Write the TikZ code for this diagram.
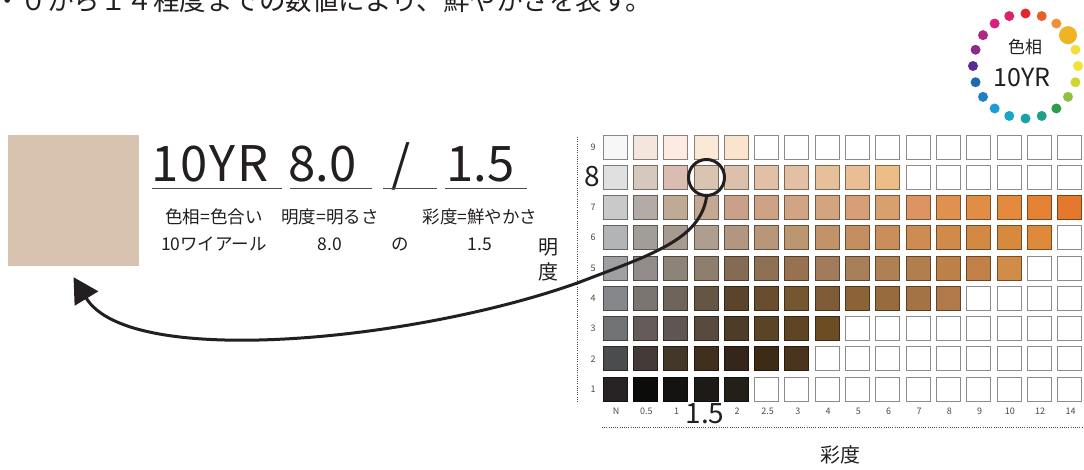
\documentclass[tikz,border=0pt]{standalone}
\usepackage{fontspec}
\setmainfont{Noto Sans CJK JP}
\usetikzlibrary{arrows.meta}
\definecolor{ink}{HTML}{231F20}
\definecolor{swatchc}{HTML}{D8C3B1}
\definecolor{lab}{HTML}{4A4A4A}
\begin{document}
\begin{tikzpicture}[x=1pt,y=-1pt,
  fs/.style={font=\fontsize{#1}{#1}\selectfont},
  cellbox/.style={rectangle, minimum size=24pt, inner sep=0pt, line width=0.8pt},
  dotc/.style={circle, inner sep=0pt, minimum size=#1},
  small/.style={fs=9, text=lab, inner sep=0pt},
  jtext/.style={fs=17.5, text=ink, inner sep=0pt},
  uline/.style={draw=ink!80, line width=0.9pt},
  dotline/.style={draw=lab, line width=0.6pt, dash pattern=on 1pt off 1.2pt}
]
\useasboundingbox (0,0) rectangle (1084,470);
\clip (0,0) rectangle (1084,470);
\fill[white] (0,0) rectangle (1084,470);

% top text (cut by the top edge, as in the reference)
\node[fs=26.5, text=ink, anchor=base west, inner sep=0pt] (toptext) at (-6,11) {・０から１４程度までの数値により、鮮やかさを表す。};

% swatch
\node[rectangle, fill=swatchc, minimum width=131pt, minimum height=131pt, inner sep=0pt] (sw) at (73.5,200.5) {};

% notation
\node[fs=49, text=ink, anchor=base west, inner sep=0pt] (hue) at (151,182) {\addfontfeature{LetterSpace=4}10YR};
\node[fs=49, text=ink, anchor=base west, inner sep=0pt] (val) at (288,182) {8.0};
\node[fs=49, text=ink, anchor=base west, inner sep=0pt] (sl) at (391,182) {/};
\node[fs=49, text=ink, anchor=base west, inner sep=0pt] (chr) at (446,182) {1.5};
\draw[uline] (152,188) -- (282,188);
\draw[uline] (290,188) -- (372,188);
\draw[uline] (383,188) -- (437,188);
\draw[uline] (445,188) -- (527,188);

\node[jtext] (t1) at (214,217) {色相=色合い};
\node[jtext] (t2) at (330,217) {明度=明るさ};
\node[jtext] (t3) at (480,217) {彩度=鮮やかさ};
\node[jtext] (t4) at (214,244) {10ワイアール};
\node[jtext] (t5) at (330,244) {8.0};
\node[jtext] (t6) at (400,244) {の};
\node[jtext] (t7) at (480,244) {1.5};

% axis titles
\node[text=ink, align=center, inner sep=0pt, font=\fontsize{20}{25}\selectfont] (vtitle) at (548,259.5) {明\\度};
\node[fs=20, text=ink, inner sep=0pt] (ctitle) at (840,455) {彩度};

% dotted axes
\draw[dotline] (577,137) -- (577,402);
\draw[dotline] (602,427) -- (1082,427);

% grid
\foreach \r/\lst in {
 9/{F7F7F7,F4E6DC,FDEAE2,FAE9D7,FBE4CE,FFFFFF,FFFFFF,FFFFFF,FFFFFF,FFFFFF,FFFFFF,FFFFFF,FFFFFF,FFFFFF,FFFFFF,FFFFFF},
 8/{E0E0E1,D6C8BC,D8BDB0,D9C4B1,DCC0AB,E0C1A6,E3C0A1,E6C09B,EABE94,ECBD87,FFFFFF,FFFFFF,FFFFFF,FFFFFF,FFFFFF,FFFFFF},
 7/{C9C9CA,B5ABA6,BFAA96,C4A893,C9A18B,CEA285,D1A583,D3A47D,D79F77,D9A06F,DC9562,DF914F,E28D45,E38A3E,E38134,E4782C},
 6/{B3B4B6,A39D98,A69B8E,AE9E8E,B29680,B8967A,BC9571,C29268,C58E60,C98E5A,CD8C52,D08B4A,D18944,D68A3E,DF8A3B,FFFFFF},
 5/{9E9FA2,938B89,8D8376,8E7E6D,856B54,8E7055,977150,A27B5C,A77F59,AF8053,B17F4E,BD8049,C18048,D08C48,FFFFFF,FFFFFF},
 4/{86878B,7B7571,6E645B,655544,5A442B,684E2F,745730,805B37,8B6337,976B3E,A37343,B0794A,FFFFFF,FFFFFF,FFFFFF,FFFFFF},
 3/{717274,635C5A,5F5651,584B3E,4D3C28,594526,604524,6C4D23,FFFFFF,FFFFFF,FFFFFF,FFFFFF,FFFFFF,FFFFFF,FFFFFF,FFFFFF},
 2/{4B4C4D,433936,423729,3F2F1C,34261A,3D2B16,4B341D,FFFFFF,FFFFFF,FFFFFF,FFFFFF,FFFFFF,FFFFFF,FFFFFF,FFFFFF,FFFFFF},
 1/{272324,0C0C0B,151311,1D1B17,231F19,FFFFFF,FFFFFF,FFFFFF,FFFFFF,FFFFFF,FFFFFF,FFFFFF,FFFFFF,FFFFFF,FFFFFF,FFFFFF}} {
  \foreach \h [count=\c] in \lst {
    \definecolor{cc}{HTML}{\h}
    \node[cellbox, fill=cc, draw=cc!55!black] (cell-\r-\c) at ({615+30.3*(\c-1)},{147+30.25*(9-\r)}) {};
  }
}

% row labels
\foreach \r in {9,7,6,5,4,3,2,1}
  \node[small] (rl-\r) at (593,{147+30.25*(9-\r)}) {\r};
\node[fs=28, text=ink, inner sep=0pt] (rl-8) at (592,177) {8};

% column labels
\foreach \t [count=\c] in {N,0.5,1,,2,2.5,3,4,5,6,7,8,9,10,12,14}
  \node[small] (cl-\c) at ({616+30.3*(\c-1)},411) {\t};
\node[fs=28, text=ink, inner sep=0pt] (cl-big) at (705,414) {1.5};

% highlight and arrow
\node[circle, draw=ink, line width=3pt, minimum size=36pt, inner sep=0pt] (hl) at (706.5,177.5) {};
\coordinate (tip) at ([yshift=-11pt]sw.south);
\draw[ink, line width=3pt, -{Triangle[length=25pt,width=27pt]}]
  (hl.south) .. controls (700,240) and (650,255) .. (580,282)
  .. controls (420,340) and (130,370) .. (tip);

% hue wheel
\foreach \col [count=\k from 0] in {E2262B,E5632B,EE9335,F0B323,F4DE3F,F1E234,CDD62F,8DC13F,2E9C49,1CA089,18A3A6,1AA5C8,1E9CD8,2180C3,1D6CB0,5C2D8E,8E2A8C,B0287F,D7217D,DB2461} {
  \definecolor{dc}{HTML}{\col}
  \ifnum\k=3
    \node[dotc=18pt, fill=dc] (hd-\k) at ({1025.5+52.5*cos(90-18*\k)},{66-52.5*sin(90-18*\k)}) {};
  \else
    \node[dotc=10pt, fill=dc] (hd-\k) at ({1025.5+52.5*cos(90-18*\k)},{66-52.5*sin(90-18*\k)}) {};
  \fi
}
\node[fs=17, text=ink, inner sep=0pt] (wh1) at (1025,47.5) {色相};
\node[fs=25, text=ink, inner sep=0pt] (wh2) at (1022,78) {10YR};
\end{tikzpicture}
\end{document}
